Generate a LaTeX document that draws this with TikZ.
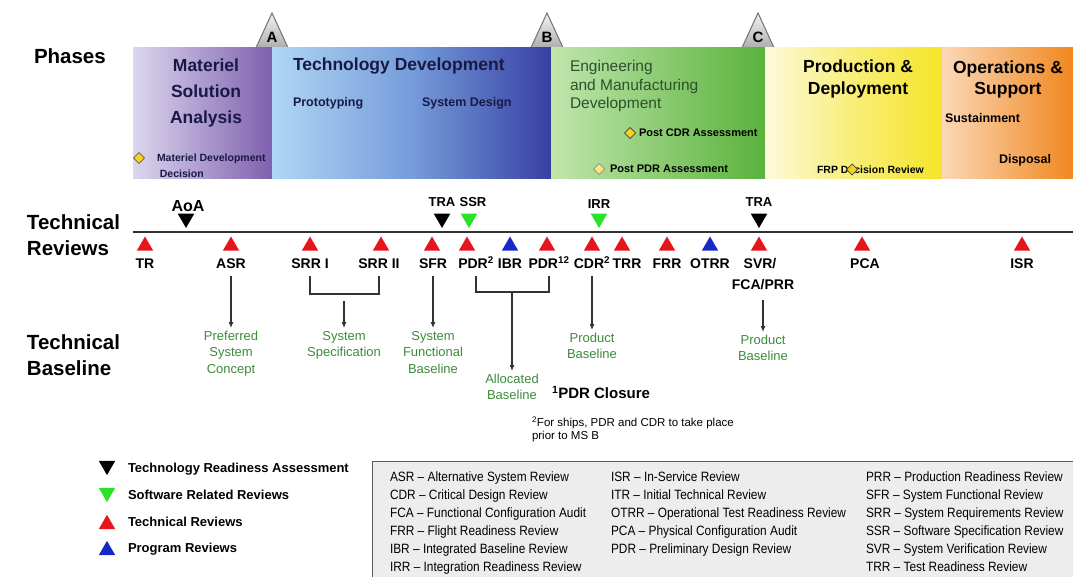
\documentclass[tikz,border=0pt]{standalone}
\usepackage{fontspec}
\setmainfont{Liberation Sans}
\newfontfamily\narrowf[FakeStretch=0.88]{Liberation Sans}
\usetikzlibrary{shapes.geometric,arrows.meta}
\definecolor{tred}{RGB}{232,20,28}
\definecolor{tblue}{RGB}{22,40,200}
\definecolor{tgreen}{RGB}{40,228,40}
\definecolor{gtext}{RGB}{60,140,60}
\definecolor{navy}{RGB}{25,25,70}
\definecolor{emdtext}{RGB}{45,80,45}
\definecolor{dyel}{RGB}{246,212,30}
\definecolor{msaL}{RGB}{220,214,238}
\definecolor{msaR}{RGB}{126,96,174}
\definecolor{tdL}{RGB}{176,214,244}
\definecolor{tdM}{RGB}{118,156,218}
\definecolor{tdR}{RGB}{55,64,164}
\definecolor{emdL}{RGB}{192,230,172}
\definecolor{emdR}{RGB}{90,178,60}
\definecolor{pdL}{RGB}{253,250,218}
\definecolor{pdR}{RGB}{245,228,40}
\definecolor{osL}{RGB}{251,216,184}
\definecolor{osR}{RGB}{240,135,30}
\begin{document}
\begin{tikzpicture}[x=1pt,y=-1pt,
  every node/.style={inner sep=0pt, outer sep=0pt},
  phase/.style={rectangle, draw=none, minimum height=131pt},
  tri/.style={regular polygon, regular polygon sides=3, minimum size=19pt, inner sep=0pt, draw=none},
  tup/.style={tri},
  tdown/.style={tri, shape border rotate=180},
  rlbl/.style={font=\fontsize{14}{16}\selectfont\bfseries, anchor=base},
  tlbl/.style={font=\fontsize{13}{15}\selectfont\bfseries, anchor=base},
  gbase/.style={font=\fontsize{13}{16.5}\selectfont, text=gtext, align=center, anchor=north, inner sep=3pt},
  conn/.style={draw=black!80, line width=1.1pt},
  arr/.style={conn, -{Latex[length=6pt,width=5pt]}},
  side/.style={font=\fontsize{20.5}{26}\selectfont\bfseries, align=left, anchor=north west},
  mst/.style={draw=black!55, line width=1pt, top color=black!5, bottom color=black!35},
  mlet/.style={font=\fontsize{15}{15}\selectfont\bfseries},
  dia/.style={diamond, draw=black!75, fill=dyel, minimum size=11pt, line width=0.7pt},
  ptitle/.style={font=\fontsize{17.5}{22}\selectfont\bfseries, align=center, anchor=north},
  psmall/.style={font=\fontsize{12.5}{15}\selectfont\bfseries, anchor=base west},
  passess/.style={font=\fontsize{11}{13}\selectfont\bfseries, anchor=base west},
  leg/.style={font=\fontsize{13}{15}\selectfont\bfseries, anchor=base west},
  boxcol/.style={font=\narrowf\fontsize{13.5}{18}\selectfont, align=left, anchor=north west},
]
\useasboundingbox (0,0) rectangle (1073,577);
\fill[white] (0,0) rectangle (1073,577);

% side labels
\node[side, anchor=base west] (lPhases) at (34,64) {Phases};
\node[side] (lReviews) at (27,214.5) {Technical\\Reviews};
\node[side] (lBaseline) at (27,334.5) {Technical\\Baseline};

% milestones
\path[mst] (254,52) -- (272,13) -- (290,52) -- cycle;
\node[mlet] (msA) at (272,37) {A};
\path[mst] (529,52) -- (547,13) -- (565,52) -- cycle;
\node[mlet] (msB) at (547,37) {B};
\path[mst] (740,52) -- (758,13) -- (776,52) -- cycle;
\node[mlet] (msC) at (758,37) {C};

% phase bars
\node[phase, minimum width=139pt, left color=msaL, right color=msaR] (msa) at (202.5,113.5) {};
\node[phase, minimum width=279pt, left color=tdL, right color=tdR, middle color=tdM] (td) at (411.5,113.5) {};
\node[phase, minimum width=214pt, left color=emdL, right color=emdR] (emd) at (658,113.5) {};
\node[phase, minimum width=177pt, left color=pdL, right color=pdR, middle color=pdR!55!pdL] (pd) at (853.5,113.5) {};
\node[phase, minimum width=131pt, left color=osL, right color=osR] (os) at (1007.5,113.5) {};

% phase texts
\node[ptitle, text=navy, font=\fontsize{17.5}{26}\selectfont\bfseries] (tMSA) at (206,58.5) {Materiel\\Solution\\Analysis};
\node[dia] (dMDD) at (139,158) {};
\node[passess, anchor=north west, align=left, text=navy, font=\fontsize{10.5}{16}\selectfont\bfseries] (tMDD) at (157,154) {Materiel Development\\\ Decision};
\node[font=\fontsize{17.5}{22}\selectfont\bfseries, anchor=base west, text=navy] (tTD) at (293,71) {Technology Development};
\node[psmall, text=navy] (tProto) at (293,106.5) {Prototyping};
\node[psmall, text=navy] (tSysD) at (422,106.5) {System Design};
\node[font=\fontsize{15.5}{18.5}\selectfont, align=left, anchor=north west, text=emdtext] (tEMD) at (570,60.5) {Engineering\\and Manufacturing\\Development};
\node[dia] (dCDRA) at (630,133) {};
\node[passess] (tCDRA) at (639,137) {Post CDR Assessment};
\node[dia, fill=dyel!55, draw=black!45] (dPDRA) at (599,169) {};
\node[passess] (tPDRA) at (610,173) {Post PDR Assessment};
\node[ptitle] (tPD) at (858,59.7) {Production \&\\Deployment};
\node[passess, font=\fontsize{10.5}{13}\selectfont\bfseries] (tFRP) at (817,174) {FRP Decision Review};
\node[dia] (dFRP) at (852,169.5) {};
\node[ptitle, font=\fontsize{17.5}{21}\selectfont\bfseries] (tOS) at (1008,60.5) {Operations \&\\Support};
\node[psmall] (tSus) at (945,122.5) {Sustainment};
\node[psmall] (tDisp) at (999,163.5) {Disposal};

% timeline
\coordinate (tl0) at (133,232);
\coordinate (tl1) at (1073,232);
\draw[black!80, line width=1.6pt] (tl0) -- (tl1);

% down triangles above line
\node[tdown, fill=black] (tAoA) at (186,218.5) {};
\node[font=\fontsize{16}{18}\selectfont\bfseries, anchor=base] (lAoA) at (188,211.5) {AoA};
\node[tdown, fill=black] (tTRA1) at (442,218.5) {};
\node[tlbl] (lTRA1) at (442,206.6) {TRA};
\node[tdown, fill=tgreen] (tSSR) at (469,218.5) {};
\node[tlbl] (lSSR) at (473,206.6) {SSR};
\node[tdown, fill=tgreen] (tIRR) at (599,218.5) {};
\node[tlbl] (lIRR) at (599,208.6) {IRR};
\node[tdown, fill=black] (tTRA2) at (759,218.5) {};
\node[tlbl] (lTRA2) at (759,206.6) {TRA};

% up triangles below line
\node[tup, fill=tred] (tTR) at (145,246) {};
\node[tup, fill=tred] (tASR) at (231,246) {};
\node[tup, fill=tred] (tSRR1) at (310,246) {};
\node[tup, fill=tred] (tSRR2) at (381,246) {};
\node[tup, fill=tred] (tSFR) at (432,246) {};
\node[tup, fill=tred] (tPDR) at (467,246) {};
\node[tup, fill=tblue] (tIBR) at (510,246) {};
\node[tup, fill=tred] (tPDR2) at (547,246) {};
\node[tup, fill=tred] (tCDR) at (592,246) {};
\node[tup, fill=tred] (tTRR) at (622,246) {};
\node[tup, fill=tred] (tFRR) at (667,246) {};
\node[tup, fill=tblue] (tOTRR) at (710,246) {};
\node[tup, fill=tred] (tSVR) at (759,246) {};
\node[tup, fill=tred] (tPCA) at (862,246) {};
\node[tup, fill=tred] (tISR) at (1022,246) {};

% review labels
\node[rlbl] (TR) at (145,269) {TR};
\node[rlbl] (ASR) at (231,269) {ASR};
\node[rlbl] (SRR1) at (310,269) {SRR I};
\node[rlbl] (SRR2) at (379,269) {SRR II};
\node[rlbl] (SFR) at (433,269) {SFR};
\node[rlbl] (PDR) at (476,269) {PDR\textsuperscript{2}};
\node[rlbl] (IBR) at (510,269) {IBR};
\node[rlbl] (PDRb) at (549,269) {PDR\textsuperscript{12}};
\node[rlbl] (CDR) at (592,269) {CDR\textsuperscript{2}};
\node[rlbl] (TRR) at (627,269) {TRR};
\node[rlbl] (FRR) at (667,269) {FRR};
\node[rlbl] (OTRR) at (710,269) {OTRR};
\node[rlbl] (SVR) at (760,269) {SVR/};
\node[rlbl] (FCAPRR) at (763,289) {FCA/PRR};
\node[rlbl] (PCA) at (865,269) {PCA};
\node[rlbl] (ISR) at (1022,269) {ISR};

% baselines
\node[gbase] (bPSC) at (231,328) {Preferred\\System\\Concept};
\node[gbase] (bSS) at (344,328) {System\\Specification};
\node[gbase] (bSFB) at (433,328) {System\\Functional\\Baseline};
\node[gbase] (bAB) at (512,371) {Allocated\\Baseline};
\node[gbase] (bPB1) at (592,330) {Product\\Baseline};
\node[gbase] (bPB2) at (763,332) {Product\\Baseline};

% connectors
\draw[arr] (ASR.south) ++(0,7) -- (bPSC.north);
\draw[conn] (SRR1.south) ++(0,7) |- (SRR2.south |- 0,294) -- ([yshift=-7pt]SRR2.south);
\coordinate (srrmid) at (344,301);
\draw[arr] (srrmid) -- (bSS.north);
\draw[arr] (SFR.south) ++(0,7) -- (bSFB.north);
\draw[conn] (PDR.south) ++(0,7) |- (PDRb.south |- 0,292) -- ([yshift=-7pt]PDRb.south);
\coordinate (pdrmid) at (512,292);
\draw[arr] (pdrmid) -- (bAB.north);
\draw[arr] (CDR.south) ++(0,7) -- (bPB1.north);
\coordinate (svrmid) at (763,300);
\draw[arr] (svrmid) -- (bPB2.north);

% notes
\node[font=\fontsize{15}{17}\selectfont\bfseries, anchor=base west] (nClos) at (552,398.5) {\textsuperscript{1}PDR Closure};
\node[font=\fontsize{11.5}{13.5}\selectfont, align=left, anchor=north west] (nShips) at (532,416.5) {\textsuperscript{2}For ships, PDR and CDR to take place\\prior to MS B};

% legend
\node[tdown, fill=black] (gTRA) at (107,465.6) {};
\node[leg] (gTRAt) at (128,472.7) {Technology Readiness Assessment};
\node[tdown, fill=tgreen] (gSW) at (107,492.6) {};
\node[leg] (gSWt) at (128,499.7) {Software Related Reviews};
\node[tup, fill=tred] (gTR) at (107,524.4) {};
\node[leg] (gTRt) at (128,526.7) {Technical Reviews};
\node[tup, fill=tblue] (gPR) at (107,550.4) {};
\node[leg] (gPRt) at (128,552.7) {Program Reviews};

% acronym box
\draw[draw=black!65, fill=black!7, line width=1pt] (372,461) rectangle (1085,590);
\node[boxcol] (col1) at (390,472) {ASR – Alternative System Review\\CDR – Critical Design Review\\FCA – Functional Configuration Audit\\FRR – Flight Readiness Review\\IBR – Integrated Baseline Review\\IRR – Integration Readiness Review};
\node[boxcol] (col2) at (611,472) {ISR – In-Service Review\\ITR – Initial Technical Review\\OTRR – Operational Test Readiness Review\\PCA – Physical Configuration Audit\\PDR – Preliminary Design Review};
\node[boxcol] (col3) at (866,472) {PRR – Production Readiness Review\\SFR – System Functional Review\\SRR – System Requirements Review\\SSR – Software Specification Review\\SVR – System Verification Review\\TRR – Test Readiness Review};
\end{tikzpicture}
\end{document}
